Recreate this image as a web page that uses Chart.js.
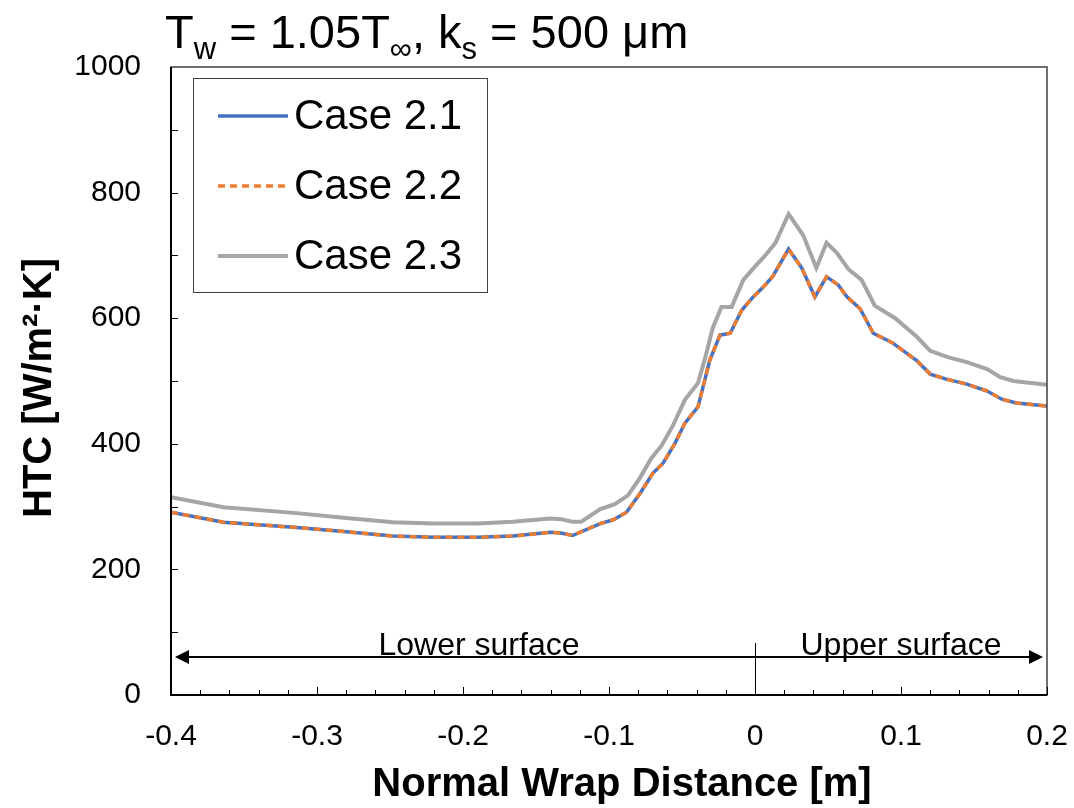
<!DOCTYPE html>
<html lang="en">
<head>
  <meta charset="UTF-8" />
  <title>HTC along wrap distance</title>
  <script src="https://cdn.jsdelivr.net/npm/chart.js"></script>
  <style>
    html, body { margin: 0; padding: 0; background: #fff; }
    canvas { display: block; }
  </style>
</head>
<body>
  <canvas id="htcChart" width="1074" height="808"></canvas>

  <script>
    // Data
    const xCase21 = [-0.4, -0.364, -0.316, -0.28, -0.248, -0.22, -0.19, -0.166, -0.14, -0.133, -0.125, -0.106, -0.097, -0.088, -0.079, -0.07, -0.063, -0.055, -0.048, -0.039, -0.031, -0.024, -0.017, -0.009, -0.002, 0.005, 0.012, 0.023, 0.032, 0.041, 0.049, 0.057, 0.063, 0.072, 0.081, 0.094, 0.111, 0.12, 0.131, 0.145, 0.159, 0.169, 0.179, 0.2];
    const htcCase21 = [291, 275, 267, 260, 253, 251, 251, 253, 259, 258, 254, 273, 279, 291, 320, 353, 369, 400, 433, 459, 533, 573, 576, 613, 632, 648, 666, 710, 680, 634, 666, 653, 634, 615, 576, 561, 532, 511, 503, 495, 484, 471, 465, 460];
    const htcCase22 = [291, 275, 267, 260, 253, 251, 251, 253, 259, 258, 254, 273, 279, 291, 320, 353, 369, 400, 433, 459, 533, 573, 576, 613, 632, 648, 666, 710, 680, 634, 666, 653, 634, 615, 576, 561, 532, 511, 503, 495, 484, 471, 465, 460];
    const xCase23 = [-0.4, -0.364, -0.316, -0.28, -0.248, -0.22, -0.19, -0.166, -0.14, -0.133, -0.125, -0.119, -0.106, -0.096, -0.087, -0.079, -0.071, -0.064, -0.056, -0.048, -0.039, -0.034, -0.029, -0.023, -0.016, -0.008, 0.001, 0.007, 0.014, 0.023, 0.033, 0.042, 0.049, 0.056, 0.064, 0.073, 0.082, 0.096, 0.111, 0.12, 0.132, 0.145, 0.159, 0.168, 0.177, 0.2];
    const htcCase23 = [315, 299, 290, 282, 275, 273, 273, 276, 281, 280, 276, 276, 296, 304, 318, 345, 377, 397, 430, 470, 497, 538, 584, 618, 618, 661, 685, 700, 720, 766, 732, 680, 720, 704, 678, 661, 620, 600, 570, 548, 538, 530, 519, 506, 500, 494];

    const seriesNames = ['Case 2.1', 'Case 2.2', 'Case 2.3'];
    const xTickValues = [-0.4, -0.3, -0.2, -0.1, 0, 0.1, 0.2];
    const xTickLabels = ['-0.4', '-0.3', '-0.2', '-0.1', '0', '0.1', '0.2'];
    const yTickValues = [0, 200, 400, 600, 800, 1000];
    const regionLabels = ['Lower surface', 'Upper surface'];

    const toPoints = (xs, ys) => xs.map((x, i) => ({ x: x, y: ys[i] }));

    const BLUE = '#4472C4';
    const ORANGE = '#ED7D31';
    const GRAY = '#A5A5A5';
    const FONT = '"Liberation Sans", Arial, sans-serif';

    // Extra drawing: frame, inner ticks, legend, title, axis titles, arrows
    const decorPlugin = {
      id: 'decor',
      afterDraw(chart) {
        const ctx = chart.ctx;
        const area = chart.chartArea;
        const xs = chart.scales.x;
        const ys = chart.scales.y;
        ctx.save();

        // frame
        ctx.strokeStyle = '#404040';
        ctx.lineWidth = 1.5;
        ctx.strokeRect(area.left, area.top, area.right - area.left, area.bottom - area.top);
        ctx.strokeStyle = '#000';
        ctx.lineWidth = 2;
        ctx.beginPath();
        ctx.moveTo(area.left, area.top);
        ctx.lineTo(area.left, area.bottom);
        ctx.lineTo(area.right, area.bottom);
        ctx.stroke();

        // inner ticks
        ctx.lineWidth = 1;
        ctx.beginPath();
        for (let i = 0; i <= 30; i++) {
          const v = -0.4 + i * 0.02;
          const px = Math.round(xs.getPixelForValue(v)) + 0.5;
          const len = i % 5 === 0 ? 8 : 5;
          ctx.moveTo(px, area.bottom);
          ctx.lineTo(px, area.bottom - len);
        }
        for (let v = 100; v < 1000; v += 100) {
          const py = Math.round(ys.getPixelForValue(v)) + 0.5;
          ctx.moveTo(area.left, py);
          ctx.lineTo(area.left + 7, py);
        }
        ctx.stroke();

        // surface arrows
        const ay = 657;
        const xl = xs.getPixelForValue(-0.4) + 4;
        const xr = xs.getPixelForValue(0.2) - 4;
        ctx.lineWidth = 2;
        ctx.beginPath();
        ctx.moveTo(xl + 10, ay);
        ctx.lineTo(xr - 10, ay);
        ctx.stroke();
        ctx.fillStyle = '#000';
        ctx.beginPath();
        ctx.moveTo(xl, ay);
        ctx.lineTo(xl + 14, ay - 7);
        ctx.lineTo(xl + 14, ay + 7);
        ctx.closePath();
        ctx.fill();
        ctx.beginPath();
        ctx.moveTo(xr, ay);
        ctx.lineTo(xr - 14, ay - 7);
        ctx.lineTo(xr - 14, ay + 7);
        ctx.closePath();
        ctx.fill();
        const x0 = Math.round(xs.getPixelForValue(0)) + 0.5;
        ctx.lineWidth = 1;
        ctx.beginPath();
        ctx.moveTo(x0, 643);
        ctx.lineTo(x0, area.bottom);
        ctx.stroke();

        ctx.font = '32px ' + FONT;
        ctx.textAlign = 'center';
        ctx.textBaseline = 'alphabetic';
        ctx.fillText(regionLabels[0], 479, 655);
        ctx.fillText(regionLabels[1], 901, 655);

        // legend
        ctx.fillStyle = '#fff';
        ctx.fillRect(193, 78, 294, 214);
        ctx.strokeStyle = '#404040';
        ctx.lineWidth = 1;
        ctx.strokeRect(193.5, 78.5, 294, 214);
        const legendStyles = [
          { color: BLUE, dash: [], width: 3.5 },
          { color: ORANGE, dash: [7, 5], width: 3.5 },
          { color: GRAY, dash: [], width: 4 }
        ];
        ctx.textAlign = 'left';
        ctx.textBaseline = 'middle';
        ctx.font = '42px ' + FONT;
        seriesNames.forEach((name, i) => {
          const ly = 116 + i * 70;
          ctx.strokeStyle = legendStyles[i].color;
          ctx.lineWidth = legendStyles[i].width;
          ctx.setLineDash(legendStyles[i].dash);
          ctx.beginPath();
          ctx.moveTo(218, ly);
          ctx.lineTo(288, ly);
          ctx.stroke();
          ctx.setLineDash([]);
          ctx.fillStyle = '#000';
          ctx.fillText(name, 294, ly + 1);
        });

        // title with subscripts
        ctx.textBaseline = 'alphabetic';
        ctx.fillStyle = '#000';
        const parts = [
          ['T', false], ['w', true], [' = 1.05T', false], ['\u221E', true],
          [', k', false], ['s', true], [' = 500 \u03BCm', false]
        ];
        let tx = 165;
        parts.forEach(([txt, sub]) => {
          ctx.font = (sub ? '31px ' : '47px ') + FONT;
          ctx.fillText(txt, tx, sub ? 59 : 48);
          tx += ctx.measureText(txt).width;
        });

        // axis titles
        ctx.font = 'bold 40px ' + FONT;
        ctx.textAlign = 'center';
        ctx.textBaseline = 'middle';
        ctx.fillText('Normal Wrap Distance [m]', 622, 785);
        ctx.save();
        ctx.translate(40, 388);
        ctx.rotate(-Math.PI / 2);
        ctx.fillText('HTC [W/m\u00B2\u00B7K]', 0, 0);
        ctx.restore();

        ctx.restore();
      }
    };

    const htcCtx = document.getElementById('htcChart').getContext('2d');
    const htcChart = new Chart(htcCtx, {
      type: 'scatter',
      data: {
        datasets: [
          {
            label: seriesNames[1],
            data: toPoints(xCase21, htcCase22),
            showLine: true,
            borderColor: ORANGE,
            borderWidth: 3.5,
            borderDash: [7, 5],
            pointRadius: 0,
            order: 0
          },
          {
            label: seriesNames[0],
            data: toPoints(xCase21, htcCase21),
            showLine: true,
            borderColor: BLUE,
            borderWidth: 3.5,
            pointRadius: 0,
            order: 1
          },
          {
            label: seriesNames[2],
            data: toPoints(xCase23, htcCase23),
            showLine: true,
            borderColor: GRAY,
            borderWidth: 4,
            pointRadius: 0,
            order: 2
          }
        ]
      },
      options: {
        responsive: false,
        animation: false,
        layout: { padding: { left: 0, right: 27, top: 67, bottom: 0 } },
        plugins: {
          legend: { display: false },
          title: { display: false },
          tooltip: { enabled: false }
        },
        scales: {
          x: {
            type: 'linear',
            min: -0.4,
            max: 0.2,
            grid: { display: false, drawTicks: false },
            border: { display: false },
            afterBuildTicks: scale => { scale.ticks = xTickValues.map(v => ({ value: v })); },
            afterFit: scale => {
              scale.height = 113;
              scale.paddingLeft = 0;
              scale.paddingRight = 0;
            },
            ticks: {
              color: '#000',
              padding: 24,
              font: { family: FONT, size: 30 },
              callback: (val, idx) => xTickLabels[idx]
            }
          },
          y: {
            min: 0,
            max: 1000,
            grid: { display: false, drawTicks: false },
            border: { display: false },
            afterBuildTicks: scale => { scale.ticks = yTickValues.map(v => ({ value: v })); },
            afterFit: scale => { scale.width = 171; },
            ticks: {
              color: '#000',
              padding: 30,
              font: { family: FONT, size: 30 },
              callback: val => String(val)
            }
          }
        }
      },
      plugins: [decorPlugin]
    });
  </script>
</body>
</html>
